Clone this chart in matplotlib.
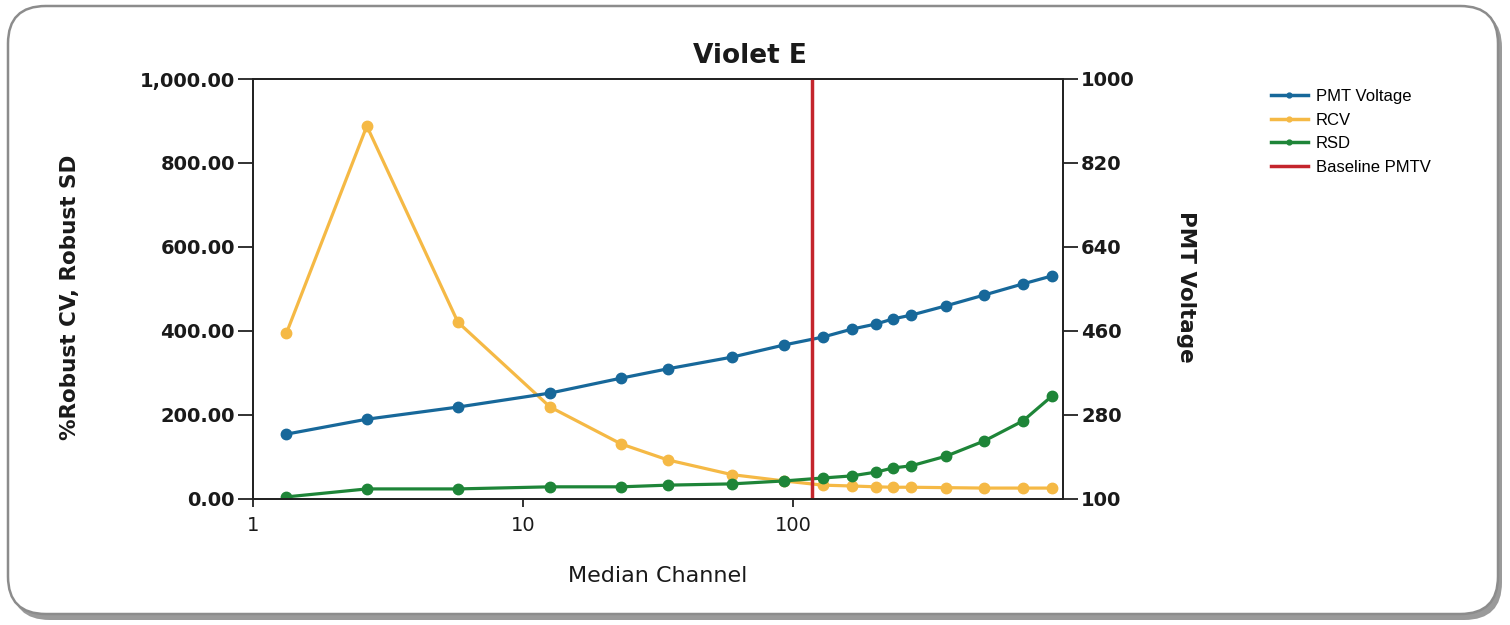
import matplotlib
matplotlib.use("Agg")
from matplotlib import pyplot as plt
from matplotlib.patches import FancyBboxPatch
from matplotlib.lines import Line2D
from matplotlib.ticker import FuncFormatter
import numpy as np

# median channel (x, log scale)
channel = [1.33, 2.64, 5.74, 12.6, 23.1, 34.4, 59.4, 92.6, 129, 165, 203,
           235, 274, 369, 510, 711, 910]
pmt_voltage = [239, 271, 297, 327, 359, 379, 404, 430, 447, 464, 475,
               486, 494, 514, 537, 561, 578]
rcv = [395, 888, 421, 219, 131, 93, 58, 43, 33, 31, 29,
       28, 28, 27, 26, 26, 26]
rsd = [5, 24, 24, 29, 29, 33, 36, 43, 50, 55, 64,
       74, 79, 102, 138, 186, 245]
baseline_pmtv = 117.5

left_ticks = [0, 200, 400, 600, 800, 1000]
right_ticks = [100, 280, 460, 640, 820, 1000]
x_ticks = [1, 10, 100]

c_blue = "#17689a"
c_orange = "#f5b945"
c_green = "#1e8538"
c_red = "#c4252c"
c_text = "#1a1a1a"

plt.rcParams["font.family"] = ["DejaVu Sans"]

fig = plt.figure(figsize=(15.1, 6.25), dpi=100)
fig.patch.set_facecolor("white")

# rounded panel with shadow
shadow = FancyBboxPatch((12 / 1510, 1 - 620 / 625), 1490 / 1510, 610 / 625,
                        boxstyle="round,pad=0,rounding_size=0.025",
                        transform=fig.transFigure, facecolor="#9a9a9a",
                        edgecolor="none", zorder=-3, mutation_aspect=2.4)
panel = FancyBboxPatch((8 / 1510, 1 - 614 / 625), 1490 / 1510, 608 / 625,
                       boxstyle="round,pad=0,rounding_size=0.025",
                       transform=fig.transFigure, facecolor="white",
                       edgecolor="#8c8c8c", linewidth=1.8, zorder=-2,
                       mutation_aspect=2.4)
fig.patches.extend([shadow, panel])

ax = fig.add_axes([253 / 1510, 1 - 499 / 625, 810 / 1510, 420 / 625])
ax.patch.set_alpha(0)
ax2 = ax.twinx()

ax.plot(channel, rcv, color=c_orange, lw=2.3, marker="o", ms=7.5)
ax.plot(channel, rsd, color=c_green, lw=2.3, marker="o", ms=7.5)
ax2.plot(channel, pmt_voltage, color=c_blue, lw=2.3, marker="o", ms=7.5)
ax2.axvline(baseline_pmtv, color=c_red, lw=2.5)

ax.set_xscale("log")
ax.set_xlim(1, 1000)
ax.set_ylim(0, 1000)
ax2.set_ylim(100, 1000)
ax.set_xticks(x_ticks)
ax.set_xticklabels([str(t) for t in x_ticks])
ax.xaxis.set_minor_locator(matplotlib.ticker.NullLocator())
ax.set_yticks(left_ticks)
ax.yaxis.set_major_formatter(FuncFormatter(lambda v, p: f"{v:,.2f}"))
ax2.set_yticks(right_ticks)

for a in (ax, ax2):
    for s in a.spines.values():
        s.set_color("#222222")
        s.set_linewidth(1.3)
    a.tick_params(axis="y", length=11, width=1.3, color="#222222",
                  labelsize=14, labelcolor=c_text, pad=2)
ax.tick_params(axis="x", length=6, width=1.3, color="#222222",
               labelsize=14, labelcolor=c_text, pad=6)
for lab in ax.get_yticklabels() + ax2.get_yticklabels():
    lab.set_fontweight("bold")

fig.text(750 / 1510, 1 - 56 / 625, "Violet E", ha="center", va="center",
         fontsize=19, fontweight="bold", color=c_text)
fig.text(658 / 1510, 1 - 576 / 625, "Median Channel", ha="center",
         va="center", fontsize=16, color=c_text)
fig.text(70 / 1510, 1 - 297 / 625, "%Robust CV, Robust SD", ha="center",
         va="center", rotation=90, fontsize=15.5, fontweight="bold",
         color=c_text)
fig.text(1186 / 1510, 1 - 287 / 625, "PMT Voltage", ha="center",
         va="center", rotation=270, fontsize=15.5, fontweight="bold",
         color=c_text)

handles = [
    Line2D([], [], color=c_blue, lw=2.5, marker="o", ms=3.5),
    Line2D([], [], color=c_orange, lw=2.5, marker="o", ms=3.5),
    Line2D([], [], color=c_green, lw=2.5, marker="o", ms=3.5),
    Line2D([], [], color=c_red, lw=2.5),
]
labels = ["PMT Voltage", "RCV", "RSD", "Baseline PMTV"]
fig.legend(handles, labels, loc="upper left",
           bbox_to_anchor=(1271 / 1510, 1 - 89 / 625), frameon=False,
           prop={"family": "Liberation Sans", "size": 12},
           handlelength=2.2, handletextpad=0.5, labelspacing=0.52,
           borderaxespad=0, borderpad=0)

fig.savefig("out.png", dpi=100, facecolor="white")
